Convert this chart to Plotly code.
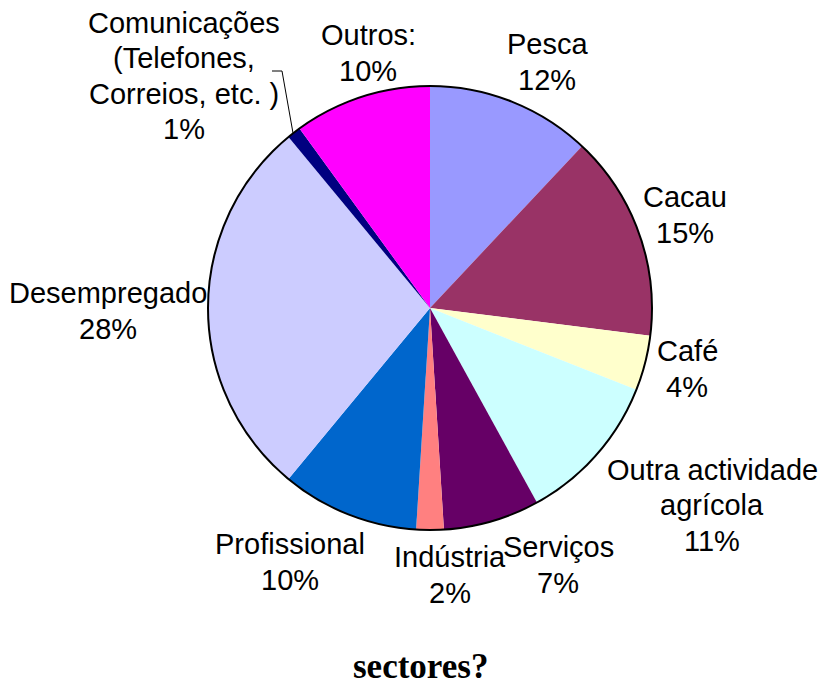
import plotly.graph_objects as go

categories = ["Pesca", "Cacau", "Café", "Outra actividade<br>agrícola", "Serviços",
              "Indústria", "Profissional", "Desempregado",
              "Comunicações<br>(Telefones,<br>Correios, etc. )", "Outros:"]
values = [12, 15, 4, 11, 7, 2, 10, 28, 1, 10]
colors = ["#9999FF", "#993366", "#FFFFCC", "#CCFFFF", "#660066",
          "#FF8080", "#0066CC", "#CCCCFF", "#000080", "#FF00FF"]
title_text = "sectores?"

# label centre positions (pixels in 825x688 canvas)
label_pos = [(547, 62), (685, 215), (687, 369), (712, 505), (558, 565),
             (450, 575), (290, 562), (108, 311), (184, 76), (368, 53)]
LINE_H = 35.5

W, H = 825, 688
cx, cy, r = 430, 308, 222

fig = go.Figure()
fig.add_trace(go.Pie(
    values=values, labels=categories, sort=False, direction="clockwise",
    rotation=0, marker=dict(colors=colors, line=dict(width=0)),
    textinfo="none", hoverinfo="label+percent", showlegend=False,
    domain=dict(x=[(cx - r) / W, (cx + r) / W], y=[1 - (cy + r) / H, 1 - (cy - r) / H]),
))
# outer outline
fig.add_trace(go.Pie(
    values=[1], sort=False, marker=dict(colors=["rgba(0,0,0,0)"], line=dict(color="black", width=2)),
    textinfo="none", hoverinfo="skip", showlegend=False,
    domain=dict(x=[(cx - r) / W, (cx + r) / W], y=[1 - (cy + r) / H, 1 - (cy - r) / H]),
))

total = sum(values)
for cat, v, (px, py) in zip(categories, values, label_pos):
    lines = cat.split("<br>") + [f"{round(100 * v / total)}%"]
    n = len(lines)
    for i, ln in enumerate(lines):
        ly = py + (i - (n - 1) / 2) * LINE_H
        fig.add_annotation(
            x=px / W, y=1 - ly / H, xref="paper", yref="paper",
            text=ln, showarrow=False,
            xanchor="center", yanchor="middle", align="center",
            font=dict(family="Liberation Sans, Arial", size=29, color="black"),
        )

# leader line for Comunicações
fig.add_shape(type="path", xref="paper", yref="paper",
              path=f"M {272/W} {1-71/H} L {282/W} {1-71/H} L {293/W} {1-133/H}",
              line=dict(color="black", width=1))

fig.add_annotation(
    x=421 / W, y=1 - 666 / H, xref="paper", yref="paper", text=f"<b>{title_text}</b>",
    showarrow=False, xanchor="center", yanchor="middle",
    font=dict(family="Liberation Serif, Times New Roman", size=35, color="black"),
)

fig.update_layout(width=W, height=H, margin=dict(l=0, r=0, t=0, b=0),
                  paper_bgcolor="white", plot_bgcolor="white")
fig.write_html("out.html", config={"displayModeBar": False},
               post_script="document.body.style.margin='0';document.body.style.overflow='hidden';")
